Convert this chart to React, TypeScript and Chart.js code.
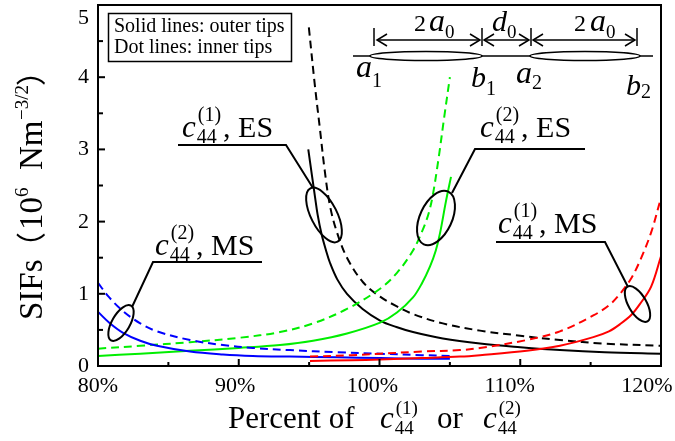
import React, { useEffect, useRef } from 'react';
import { Chart, registerables } from 'chart.js';

Chart.register(...registerables);

// ---------- axis definitions ----------
const X_MIN = 80;
const X_MAX = 120;
const Y_MIN = 0;
const Y_MAX = 5;
const xMajorTicks = [80, 90, 100, 110, 120];
const xMinorTicks = [85, 95, 105, 115];
const xTickLabels = ['80%', '90%', '100%', '110%', '120%'];
const yMajorTicks = [0, 1, 2, 3, 4, 5];
const yMinorTicks = [0.5, 1.5, 2.5, 3.5, 4.5];
const yTickLabels = ['0', '1', '2', '3', '4', '5'];

// ---------- data (percent of c44, SIF in 10^6 Nm^-3/2) ----------
// c44(1), ES — black
const esC1OuterX = [94.94, 95.2, 95.42, 95.6, 95.89, 96.2, 96.48, 97.0, 97.69, 98.8, 100.04, 101.2, 102.38, 104.5, 107.14, 110.0, 112.82, 116.0, 120.0];
const esC1OuterY = [3.0, 2.64, 2.34, 2.1, 1.82, 1.6, 1.43, 1.2, 1.0, 0.79, 0.63, 0.54, 0.47, 0.38, 0.31, 0.26, 0.22, 0.19, 0.17];
const esC1InnerX = [94.98, 95.4, 95.77, 96.1, 96.48, 96.98, 97.69, 98.83, 100.04, 101.2, 102.38, 104.5, 107.14, 110.0, 112.82, 116.0, 120.0];
const esC1InnerY = [4.69, 3.9, 3.28, 2.72, 2.22, 1.85, 1.5, 1.16, 0.96, 0.83, 0.72, 0.59, 0.49, 0.42, 0.36, 0.31, 0.28];
// c44(2), ES — green
const esC2OuterX = [80, 83, 86.5, 90, 92.93, 95.28, 97.69, 100.04, 101.24, 102.38, 103.0, 103.59, 104.0, 104.3, 104.72, 105.08];
const esC2OuterY = [0.14, 0.17, 0.21, 0.25, 0.29, 0.35, 0.45, 0.6, 0.74, 0.95, 1.14, 1.38, 1.6, 1.84, 2.28, 2.62];
const esC2InnerX = [80, 83, 86.54, 90, 92.93, 95.28, 97.69, 100.04, 101.24, 102.38, 103.1, 103.5, 103.8, 104.2, 104.6, 105.0];
const esC2InnerY = [0.24, 0.28, 0.33, 0.39, 0.47, 0.59, 0.79, 1.07, 1.29, 1.6, 1.9, 2.12, 2.38, 2.88, 3.45, 4.0];
// c44(2), MS — blue
const msC2X = [80, 80.8, 81.78, 83, 84.19, 86.54, 88.88, 91, 93.64, 97, 100.04, 103, 105.0];
const msC2OuterY = [0.75, 0.6, 0.46, 0.35, 0.28, 0.2, 0.16, 0.14, 0.13, 0.12, 0.11, 0.1, 0.1];
const msC2InnerY = [1.15, 0.95, 0.76, 0.59, 0.48, 0.36, 0.29, 0.25, 0.22, 0.19, 0.17, 0.15, 0.14];
// c44(1), MS — red
const msC1X = [95.06, 98, 100.04, 103, 105.72, 107.14, 110.46, 112.82, 115.19, 116.3, 117.09, 117.9, 118.51, 119.3, 120.0];
const msC1OuterY = [0.07, 0.08, 0.09, 0.11, 0.13, 0.15, 0.21, 0.28, 0.4, 0.48, 0.58, 0.71, 0.86, 1.1, 1.52];
const msC1InnerY = [0.13, 0.15, 0.17, 0.2, 0.22, 0.25, 0.36, 0.48, 0.7, 0.84, 1.0, 1.22, 1.46, 1.85, 2.33];

const SERIF = '"Liberation Serif", "Times New Roman", serif';
const GREEN = '#00ee00';
const BLUE = '#0000ff';
const RED = '#ff0000';
const BLACK = '#000000';

const pts = (xs: number[], ys: number[]) => xs.map((x, i) => ({ x, y: ys[i] }));

function mkSet(label: string, xs: number[], ys: number[], color: string, dashed: boolean) {
  return {
    label,
    data: pts(xs, ys),
    borderColor: color,
    backgroundColor: color,
    borderWidth: 2,
    borderDash: dashed ? [8, 5] : [],
    pointRadius: 0,
    tension: 0.35,
    fill: false,
  };
}

function drawC44(ctx: CanvasRenderingContext2D, x: number, y: number, sup: string, big: number, small: number, subDy: number, supDy: number) {
  ctx.textAlign = 'left';
  ctx.textBaseline = 'alphabetic';
  ctx.font = `italic ${big}px ${SERIF}`;
  ctx.fillText('c', x, y);
  const sx = x + ctx.measureText('c').width + 1;
  ctx.font = `${small}px ${SERIF}`;
  ctx.fillText('44', sx, y + subDy);
  ctx.fillText(sup, sx + 1, y - supDy);
  return sx + Math.max(ctx.measureText('44').width, ctx.measureText(sup).width + 1);
}

function ellipse(ctx: CanvasRenderingContext2D, cx: number, cy: number, a: number, b: number, deg: number, fill = false) {
  ctx.beginPath();
  ctx.ellipse(cx, cy, a, b, (deg * Math.PI) / 180, 0, Math.PI * 2);
  if (fill) {
    ctx.fillStyle = '#fff';
    ctx.fill();
  }
  ctx.stroke();
}

function polyline(ctx: CanvasRenderingContext2D, p: number[][]) {
  ctx.beginPath();
  ctx.moveTo(p[0][0], p[0][1]);
  for (let i = 1; i < p.length; i++) ctx.lineTo(p[i][0], p[i][1]);
  ctx.stroke();
}

function dblArrow(ctx: CanvasRenderingContext2D, x1: number, x2: number, y: number) {
  polyline(ctx, [[x1, y], [x2, y]]);
  polyline(ctx, [[x1 + 10, y - 6], [x1, y], [x1 + 10, y + 6]]);
  polyline(ctx, [[x2 - 10, y - 6], [x2, y], [x2 - 10, y + 6]]);
}

const overlay = {
  id: 'overlay',
  afterDraw(chart: any) {
    const ctx: CanvasRenderingContext2D = chart.ctx;
    const { left, right, top, bottom } = chart.chartArea;
    const xs = chart.scales.x;
    const ys = chart.scales.y;
    ctx.save();
    ctx.strokeStyle = BLACK;
    ctx.fillStyle = BLACK;
    ctx.lineCap = 'butt';

    // frame
    ctx.lineWidth = 2;
    ctx.strokeRect(left, top, right - left, bottom - top);

    // inward ticks
    xMajorTicks.forEach((v) => {
      const p = xs.getPixelForValue(v);
      polyline(ctx, [[p, bottom], [p, bottom - 7]]);
    });
    xMinorTicks.forEach((v) => {
      const p = xs.getPixelForValue(v);
      polyline(ctx, [[p, bottom], [p, bottom - 4]]);
    });
    yMajorTicks.forEach((v) => {
      const p = ys.getPixelForValue(v);
      polyline(ctx, [[left, p], [left + 7, p]]);
    });
    yMinorTicks.forEach((v) => {
      const p = ys.getPixelForValue(v);
      polyline(ctx, [[left, p], [left + 5, p]]);
    });

    // tick labels
    ctx.font = `22px ${SERIF}`;
    ctx.textBaseline = 'alphabetic';
    ctx.textAlign = 'right';
    yMajorTicks.forEach((v, i) => {
      const p = ys.getPixelForValue(v);
      ctx.fillText(yTickLabels[i], left - 9, Math.max(p + 6, 24));
    });
    ctx.textAlign = 'center';
    xMajorTicks.forEach((v, i) => {
      const p = xs.getPixelForValue(v);
      let c = p - (p - left) * 0.025;
      const w = ctx.measureText(xTickLabels[i]).width;
      c = Math.min(c, 673 - w / 2);
      ctx.fillText(xTickLabels[i], c, 392);
    });

    // x axis title
    ctx.textAlign = 'left';
    ctx.font = `31px ${SERIF}`;
    ctx.fillText('Percent of', 228, 428);
    drawC44(ctx, 380, 428, '(1)', 31, 19, 6, 14);
    ctx.font = `31px ${SERIF}`;
    ctx.fillText('or', 437, 428);
    drawC44(ctx, 483, 428, '(2)', 31, 19, 6, 14);

    // y axis title (rotated)
    ctx.save();
    ctx.translate(42, 320);
    ctx.rotate(-Math.PI / 2);
    ctx.textAlign = 'left';
    ctx.font = `33px ${SERIF}`;
    ctx.fillText('SIFs', 0, 0);
    ctx.font = `30px "Noto Sans CJK SC", ${SERIF}`;
    ctx.fillText('（', 58, 0);
    ctx.font = `33px ${SERIF}`;
    ctx.fillText('10', 90, 0);
    ctx.font = `19px ${SERIF}`;
    ctx.fillText('6', 123, -14);
    ctx.font = `33px ${SERIF}`;
    ctx.fillText('Nm', 150, 0);
    ctx.font = `19px ${SERIF}`;
    ctx.fillText('\u22123/2', 200, -14);
    ctx.font = `30px "Noto Sans CJK SC", ${SERIF}`;
    ctx.fillText('）', 234, 0);
    ctx.restore();

    // legend box
    ctx.lineWidth = 1.5;
    ctx.strokeRect(108.5, 13.5, 183, 48);
    ctx.font = `20px ${SERIF}`;
    ctx.textAlign = 'left';
    ctx.fillText('Solid lines: outer tips', 114, 32);
    ctx.fillText('Dot lines: inner tips', 114, 53);

    // series annotations
    ctx.lineWidth = 2;
    const tag = (x: number, y: number, sup: string, tail: string) => {
      const ex = drawC44(ctx, x, y, sup, 31, 20, 6, 16);
      ctx.font = `30px ${SERIF}`;
      ctx.fillText(tail, ex + 2, y);
    };
    // c44(1), ES
    tag(182, 137, '(1)', ', ES');
    polyline(ctx, [[178, 145], [286, 145], [313, 188]]);
    ellipse(ctx, 324, 215, 30, 13, 63);
    // c44(2), ES
    tag(480, 137, '(2)', ', ES');
    polyline(ctx, [[585, 149], [475, 149], [452, 193]]);
    ellipse(ctx, 436, 218, 29, 16, 115);
    // c44(2), MS
    tag(155, 255, '(2)', ', MS');
    polyline(ctx, [[262, 262], [153, 262], [132, 307]]);
    ellipse(ctx, 121, 323, 20, 9, 120);
    // c44(1), MS
    tag(498, 233, '(1)', ', MS');
    polyline(ctx, [[496, 242], [605, 242], [628, 287]]);
    ellipse(ctx, 637.5, 304, 20, 9, 60);

    // crack schematic
    ctx.lineWidth = 1.5;
    polyline(ctx, [[353, 56], [653, 56]]);
    ellipse(ctx, 426, 56, 56, 4.5, 0, true);
    ellipse(ctx, 585, 56, 55, 4.5, 0, true);
    [374, 482, 531, 637].forEach((x) => polyline(ctx, [[x, 28], [x, 46]]));
    dblArrow(ctx, 377, 480, 40);
    dblArrow(ctx, 484, 529, 40);
    dblArrow(ctx, 533, 635, 40);
    ctx.fillStyle = BLACK;
    const lbl = (main: string, sub: string, x: number, y: number, mainSize: number, subSize: number, subDy: number) => {
      ctx.font = `italic ${mainSize}px ${SERIF}`;
      ctx.fillText(main, x, y);
      const w = ctx.measureText(main).width;
      ctx.font = `${subSize}px ${SERIF}`;
      ctx.fillText(sub, x + w, y + subDy);
    };
    ctx.font = `24px ${SERIF}`;
    ctx.fillText('2', 414, 31);
    lbl('a', '0', 429, 31, 32, 19, 7);
    ctx.font = `24px ${SERIF}`;
    ctx.fillText('2', 574, 31);
    lbl('a', '0', 590, 31, 32, 19, 7);
    lbl('d', '0', 492, 31, 30, 19, 7);
    lbl('a', '1', 356, 77, 32, 20, 10);
    lbl('b', '1', 471, 87, 30, 20, 8);
    lbl('a', '2', 516, 83, 32, 20, 6);
    lbl('b', '2', 626, 95, 30, 20, 3);

    ctx.restore();
  },
};

export default function App() {
  const ref = useRef<HTMLCanvasElement | null>(null);
  useEffect(() => {
    if (!ref.current) return;
    const chart = new Chart(ref.current, {
      type: 'line',
      data: {
        datasets: [
          mkSet('c44(1) MS outer', msC1X, msC1OuterY, RED, false),
          mkSet('c44(1) MS inner', msC1X, msC1InnerY, RED, true),
          mkSet('c44(2) MS outer', msC2X, msC2OuterY, BLUE, false),
          mkSet('c44(2) MS inner', msC2X, msC2InnerY, BLUE, true),
          mkSet('c44(2) ES outer', esC2OuterX, esC2OuterY, GREEN, false),
          mkSet('c44(2) ES inner', esC2InnerX, esC2InnerY, GREEN, true),
          mkSet('c44(1) ES outer', esC1OuterX, esC1OuterY, BLACK, false),
          mkSet('c44(1) ES inner', esC1InnerX, esC1InnerY, BLACK, true),
        ],
      },
      options: {
        animation: false,
        responsive: false,
        maintainAspectRatio: false,
        devicePixelRatio: 1,
        layout: { padding: { left: 98, right: 14, top: 5, bottom: 75 } },
        scales: {
          x: { type: 'linear', min: X_MIN, max: X_MAX, display: false },
          y: { type: 'linear', min: Y_MIN, max: Y_MAX, display: false },
        },
        plugins: { legend: { display: false }, tooltip: { enabled: false } },
      },
      plugins: [overlay],
    });
    return () => chart.destroy();
  }, []);
  return (
    <div style={{ position: 'absolute', left: 0, top: 0, width: 675, height: 441, background: '#fff' }}>
      <canvas ref={ref} width={675} height={441} style={{ width: 675, height: 441, display: 'block' }} />
    </div>
  );
}
